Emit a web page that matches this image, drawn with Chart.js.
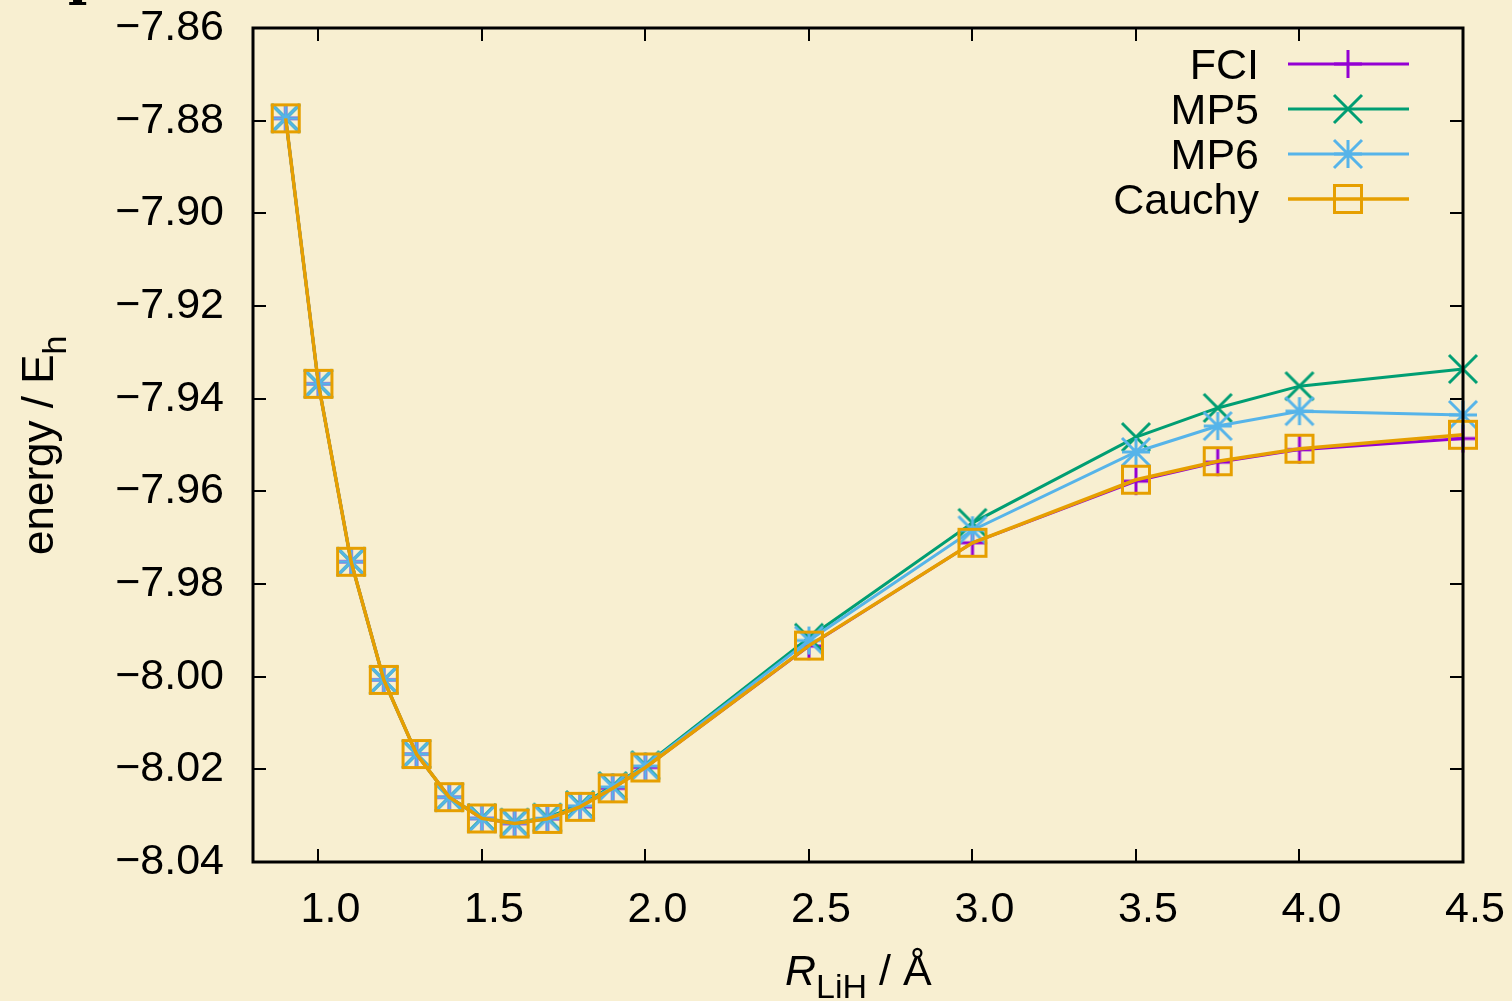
<!DOCTYPE html>
<html>
<head>
<meta charset="utf-8">
<script src="https://cdn.jsdelivr.net/npm/chart.js@4/dist/chart.umd.min.js"></script>
<style>
  html, body { margin: 0; padding: 0; background: #f8efd1; }
  #wrap { width: 1512px; height: 1001px; position: relative; }
  canvas { display: block; }
</style>
</head>
<body>
<div id="wrap"><canvas id="c" width="1512" height="1001"></canvas></div>
<script>
// ---------- data ----------
const bondLengths = [0.9, 1.0, 1.1, 1.2, 1.3, 1.4, 1.5, 1.6, 1.7, 1.8, 1.9, 2.0, 2.5, 3.0, 3.5, 3.75, 4.0, 4.5];
const fciEnergy    = [-7.8795, -7.9368, -7.9752, -8.0007, -8.0167, -8.0260, -8.0306, -8.0317, -8.0307, -8.0281, -8.0241, -8.0196, -7.9934, -7.9711, -7.9578, -7.9537, -7.9510, -7.9486];
const mp5Energy    = [-7.8795, -7.9368, -7.9752, -8.0007, -8.0167, -8.0260, -8.0305, -8.0315, -8.0304, -8.0277, -8.0236, -8.0191, -7.9916, -7.9668, -7.9483, -7.9420, -7.9373, -7.9336];
const mp6Energy    = [-7.8795, -7.9368, -7.9752, -8.0007, -8.0167, -8.0260, -8.0306, -8.0316, -8.0306, -8.0279, -8.0238, -8.0193, -7.9922, -7.9684, -7.9515, -7.9459, -7.9427, -7.9435];
const cauchyEnergy = [-7.8795, -7.9368, -7.9752, -8.0007, -8.0167, -8.0260, -8.0306, -8.0317, -8.0307, -8.0281, -8.0241, -8.0196, -7.9933, -7.9711, -7.9575, -7.9535, -7.9508, -7.9478];
const seriesNames = ['FCI', 'MP5', 'MP6', 'Cauchy'];
const xTickValues = [1.0, 1.5, 2.0, 2.5, 3.0, 3.5, 4.0, 4.5];
const yTickValues = [-7.86, -7.88, -7.90, -7.92, -7.94, -7.96, -7.98, -8.00, -8.02, -8.04];

// ---------- styling ----------
const BG = '#f8efd1';
const FONT = '"Liberation Sans", Arial, Helvetica, sans-serif';
const colors = ['#9400d3', '#009e73', '#56b4e9', '#e69f00'];
const markerTypes = ['plus', 'x', 'star', 'square'];

function makeMarker(type, color) {
  const S = 36, c = S / 2;
  const cv = document.createElement('canvas');
  cv.width = S; cv.height = S;
  const g = cv.getContext('2d');
  g.strokeStyle = color; g.lineWidth = 3; g.lineCap = 'butt';
  g.beginPath();
  const h = 14;
  if (type === 'plus' || type === 'star') {
    g.moveTo(c - h, c); g.lineTo(c + h, c);
    g.moveTo(c, c - h); g.lineTo(c, c + h);
  }
  if (type === 'x' || type === 'star') {
    g.moveTo(c - h, c - h); g.lineTo(c + h, c + h);
    g.moveTo(c - h, c + h); g.lineTo(c + h, c - h);
  }
  if (type === 'square') {
    g.rect(c - 13.5, c - 13.5, 27, 27);
  }
  g.stroke();
  return cv;
}
const markers = markerTypes.map((t, i) => makeMarker(t, colors[i]));
const allSeries = [fciEnergy, mp5Energy, mp6Energy, cauchyEnergy];

const datasets = allSeries.map((vals, i) => ({
  label: seriesNames[i],
  data: bondLengths.map((x, k) => ({ x: x, y: vals[k] })),
  borderColor: colors[i],
  backgroundColor: colors[i],
  borderWidth: i === 3 ? 3.5 : 3,
  pointStyle: markers[i],
  pointRadius: 12,
  pointHoverRadius: 12,
  tension: 0,
  clip: false,
  order: 4 - i
}));

function fmtY(v) {
  return (v < 0 ? '\u2212' : '') + Math.abs(v).toFixed(2);
}

const bgPlugin = {
  id: 'bg',
  beforeDraw(chart) {
    const ctx = chart.ctx;
    ctx.save();
    ctx.fillStyle = BG;
    ctx.fillRect(0, 0, chart.width, chart.height);
    ctx.restore();
  }
};

const framePlugin = {
  id: 'frame',
  afterDatasetsDraw(chart) {
    const ctx = chart.ctx;
    const a = chart.chartArea;
    const xs = chart.scales.x, ys = chart.scales.y;
    ctx.save();
    ctx.strokeStyle = '#000';
    // inward ticks, mirrored
    ctx.lineWidth = 2;
    const tl = 13;
    ctx.beginPath();
    xTickValues.forEach(v => {
      const px = Math.round(xs.getPixelForValue(v));
      ctx.moveTo(px, a.bottom); ctx.lineTo(px, a.bottom - tl);
      ctx.moveTo(px, a.top); ctx.lineTo(px, a.top + tl);
    });
    yTickValues.forEach(v => {
      const py = Math.round(ys.getPixelForValue(v));
      ctx.moveTo(a.left, py); ctx.lineTo(a.left + tl, py);
      ctx.moveTo(a.right, py); ctx.lineTo(a.right - tl, py);
    });
    ctx.stroke();
    // border
    ctx.lineWidth = 3;
    ctx.strokeRect(a.left, a.top, a.right - a.left, a.bottom - a.top);
    ctx.restore();
  },
  afterDraw(chart) {
    const ctx = chart.ctx;
    ctx.save();
    // legend (gnuplot style: text right-aligned, sample on the right)
    const rowY0 = 64, dy = 45;
    chart.data.datasets.forEach((ds, i) => {
      const y = rowY0 + i * dy;
      ctx.fillStyle = '#000';
      ctx.font = '43px ' + FONT;
      ctx.textAlign = 'right';
      ctx.textBaseline = 'alphabetic';
      ctx.fillText(ds.label, 1259, y + 15);
      ctx.strokeStyle = ds.borderColor;
      ctx.lineWidth = ds.borderWidth;
      ctx.beginPath();
      ctx.moveTo(1288, y); ctx.lineTo(1409, y);
      ctx.stroke();
      const m = ds.pointStyle;
      ctx.drawImage(m, 1348 - m.width / 2, y - m.height / 2);
    });

    // y axis title: energy / E_h
    ctx.fillStyle = '#000';
    ctx.save();
    ctx.translate(53, 555);
    ctx.rotate(-Math.PI / 2);
    ctx.textAlign = 'left';
    ctx.textBaseline = 'alphabetic';
    ctx.font = '44px ' + FONT;
    const main = 'energy / E';
    ctx.fillText(main, 0, 0);
    const w = ctx.measureText(main).width;
    ctx.font = '34px ' + FONT;
    ctx.fillText('h', w, 13);
    ctx.restore();

    // x axis title: R_LiH / Å
    ctx.textAlign = 'left';
    ctx.textBaseline = 'alphabetic';
    let x = 785;
    ctx.font = 'italic 43px ' + FONT;
    ctx.fillText('R', x, 985);
    x += ctx.measureText('R').width;
    ctx.font = '34px ' + FONT;
    ctx.fillText('LiH', x, 998);
    x += ctx.measureText('LiH').width;
    ctx.font = '43px ' + FONT;
    ctx.fillText(' / \u00C5', x, 985);

    // clipped fragment of a glyph at the top-left edge
    ctx.save();
    ctx.beginPath();
    ctx.rect(0, 0, 200, 7);
    ctx.clip();
    ctx.font = 'bold 52px "DejaVu Serif", serif';
    ctx.fillText('p', 68, -6);
    ctx.restore();

    ctx.restore();
  }
};

new Chart(document.getElementById('c'), {
  type: 'line',
  data: { datasets: datasets },
  plugins: [bgPlugin, framePlugin],
  options: {
    responsive: false,
    animation: false,
    devicePixelRatio: 1,
    layout: { padding: { top: 28, right: 49, left: 0, bottom: 0 } },
    plugins: {
      legend: { display: false },
      tooltip: { enabled: false },
      title: { display: false }
    },
    scales: {
      x: {
        type: 'linear',
        min: 0.8,
        max: 4.5,
        afterFit(scale) { scale.height = 139; scale.paddingLeft = 0; scale.paddingRight = 0; },
        afterBuildTicks(scale) { scale.ticks = xTickValues.map(v => ({ value: v })); },
        grid: { display: false, drawTicks: false },
        border: { display: false },
        ticks: {
          color: '#000',
          font: { family: FONT, size: 43 },
          padding: 22,
          labelOffset: 12,
          maxRotation: 0,
          autoSkip: false,
          callback: (v) => Number(v).toFixed(1)
        }
      },
      y: {
        type: 'linear',
        min: -8.04,
        max: -7.86,
        afterFit(scale) { scale.width = 253; scale.paddingTop = 0; scale.paddingBottom = 0; },
        afterBuildTicks(scale) { scale.ticks = yTickValues.map(v => ({ value: v })); },
        grid: { display: false, drawTicks: false },
        border: { display: false },
        ticks: {
          color: '#000',
          font: { family: FONT, size: 43 },
          padding: 29,
          autoSkip: false,
          callback: (v) => fmtY(v)
        }
      }
    }
  }
});
</script>
</body>
</html>
